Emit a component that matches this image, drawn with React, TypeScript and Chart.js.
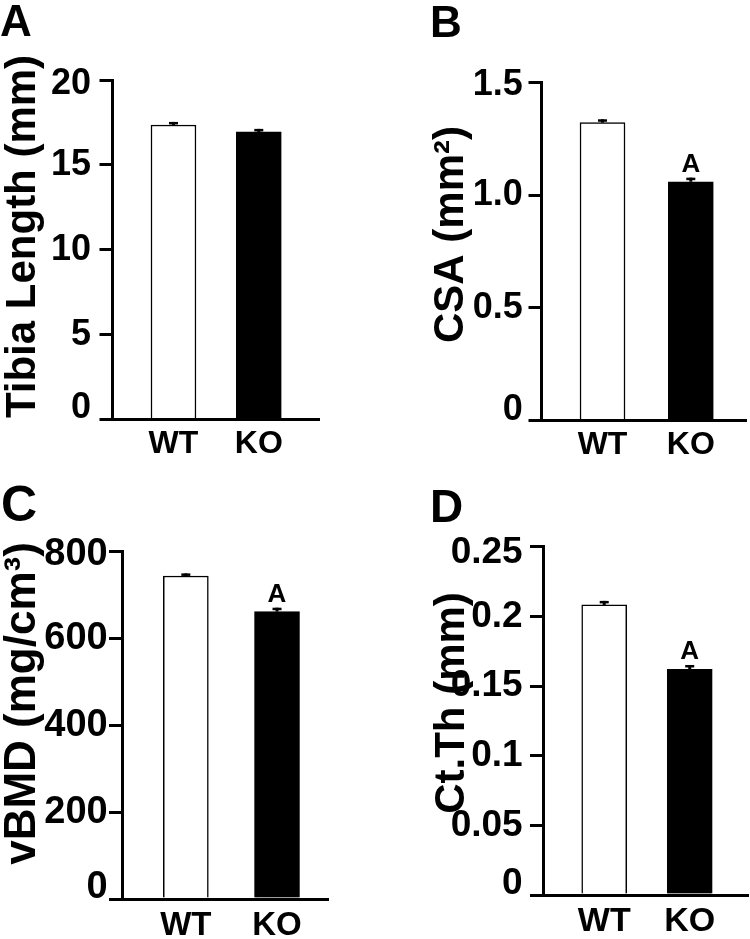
import React, { useEffect, useRef } from 'react';
import { Chart, registerables } from 'chart.js';

Chart.register(...registerables);

const FONT = '"Liberation Sans", Arial, Helvetica, sans-serif';

// ---------------- data ----------------
const categories = ['WT', 'KO'];

const tibiaLength = [17.35, 16.94];
const tibiaLengthErr = [0.18, 0.18];

const csa = [1.321, 1.059];
const csaErr = [0.015, 0.018];

const vbmd = [744, 662];
const vbmdErr = [6, 9];

const ctTh = [0.2082, 0.162];
const ctThErr = [0.0029, 0.0031];

const sigA = ['', ''];
const sigB = ['', 'A'];
const sigC = ['', 'A'];
const sigD = ['', 'A'];

const tickValsA = [0, 5, 10, 15, 20];
const tickLabelsA = ['0', '5', '10', '15', '20'];
const tickValsB = [0, 0.5, 1.0, 1.5];
const tickLabelsB = ['0', '0.5', '1.0', '1.5'];
const tickValsC = [0, 200, 400, 600, 800];
const tickLabelsC = ['0', '200', '400', '600', '800'];
const tickValsD = [0, 0.05, 0.1, 0.15, 0.2, 0.25];
const tickLabelsD = ['0', '0.05', '0.1', '0.15', '0.2', '0.25'];

const panelLetters = ['A', 'B', 'C', 'D'];
const yTitles = ['Tibia Length (mm)', 'CSA (mm²)', 'vBMD (mg/cm³)', 'Ct.Th (mm)'];

// ---------------- layout / style ----------------
const panels = [
  {
    letter: panelLetters[0], title: yTitles[0], values: tibiaLength, errors: tibiaLengthErr, sig: sigA,
    tickVals: tickValsA, tickLabels: tickLabelsA,
    x: 0, y: 0, W: 375, H: 470, left: 112.5, right: 319, top: 80, bottom: 419.5, xMin: 0.285, xMax: 2.706,
    tickFont: 36, yPad: 8.5, topShift: 4, zeroShift: 11, xFont: 32, xPad: 5,
    titleFont: 42, titleX: 35, titleY: 236.5, letterFont: 44, letterX: 0, letterY: 36,
  },
  {
    letter: panelLetters[1], title: yTitles[1], values: csa, errors: csaErr, sig: sigB,
    tickVals: tickValsB, tickLabels: tickLabelsB,
    x: 375, y: 0, W: 375, H: 470, left: 166.5, right: 371.7, top: 82.3, bottom: 420.5, xMin: 0.309, xMax: 2.633,
    tickFont: 36, yPad: 5.8, topShift: 3, zeroShift: 10.5, xFont: 32, xPad: 5,
    titleFont: 42, titleX: 88, titleY: 234.5, letterFont: 44, letterX: 55, letterY: 36.5,
  },
  {
    letter: panelLetters[2], title: yTitles[2], values: vbmd, errors: vbmdErr, sig: sigC,
    tickVals: tickValsC, tickLabels: tickLabelsC,
    x: 0, y: 470, W: 375, H: 469, left: 122, right: 328.3, top: 81.7, bottom: 429, xMin: 0.3, xMax: 2.5625,
    tickFont: 38, yPad: 1.3, topShift: 2.5, zeroShift: 11.5, xFont: 33, xPad: 7,
    titleFont: 44, titleX: 35, titleY: 233.5, letterFont: 50, letterX: 1, letterY: 51,
  },
  {
    letter: panelLetters[3], title: yTitles[3], values: ctTh, errors: ctThErr, sig: sigD,
    tickVals: tickValsD, tickLabels: tickLabelsD,
    x: 375, y: 470, W: 375, H: 469, left: 168, right: 373.3, top: 76.7, bottom: 425, xMin: 0.284, xMax: 2.685,
    tickFont: 37, yPad: 7.3, topShift: 6.5, zeroShift: 11.5, xFont: 34, xPad: 5.8,
    titleFont: 42, titleX: 89, titleY: 233, letterFont: 46, letterX: 55, letterY: 52,
  },
];

type Panel = (typeof panels)[number];

function Panel({ p }: { p: Panel }) {
  const ref = useRef<HTMLCanvasElement | null>(null);

  useEffect(() => {
    const canvas = ref.current;
    if (!canvas) return;
    const last = p.tickVals.length - 1;
    const yMax = p.tickVals[last];

    const decor = {
      id: 'decor',
      afterDatasetsDraw(chart: any) {
        const ctx = chart.ctx as CanvasRenderingContext2D;
        const ys = chart.scales.y;
        const meta = chart.getDatasetMeta(0);
        ctx.save();
        ctx.fillStyle = '#000';
        meta.data.forEach((el: any, i: number) => {
          const v = p.values[i];
          const e = p.errors[i];
          const yv = ys.getPixelForValue(v);
          const yt = ys.getPixelForValue(v + e);
          // stem
          ctx.fillRect(el.x - 1.5, yt, 3, yv - yt);
          // cap
          ctx.fillRect(el.x - 4.5, yt, 9, 2.5);
          if (p.sig[i]) {
            ctx.font = `bold 26px ${FONT}`;
            ctx.textAlign = 'center';
            ctx.textBaseline = 'alphabetic';
            ctx.fillText(p.sig[i], el.x, yt - 6);
          }
        });
        ctx.restore();
      },
      afterDraw(chart: any) {
        const ctx = chart.ctx as CanvasRenderingContext2D;
        ctx.save();
        ctx.fillStyle = '#000';
        // panel letter
        ctx.font = `bold ${p.letterFont}px ${FONT}`;
        ctx.textAlign = 'left';
        ctx.textBaseline = 'alphabetic';
        ctx.fillText(p.letter, p.letterX, p.letterY);
        // y axis title
        ctx.translate(p.titleX, p.titleY);
        ctx.rotate(-Math.PI / 2);
        ctx.font = `bold ${p.titleFont}px ${FONT}`;
        ctx.textAlign = 'center';
        ctx.textBaseline = 'alphabetic';
        ctx.fillText(p.title, 0, 0);
        ctx.restore();
      },
    };

    const chart = new Chart(canvas, {
      type: 'bar',
      data: {
        datasets: [
          {
            data: p.values.map((v, i) => ({ x: i + 1, y: v })),
            backgroundColor: ['#ffffff', '#000000'],
            borderColor: '#000000',
            borderWidth: 1.5,
            barThickness: 45,
          } as any,
        ],
      },
      options: {
        responsive: false,
        animation: false,
        devicePixelRatio: 1,
        layout: { padding: { left: 0, top: p.top, right: p.W - p.right, bottom: 0 } },
        plugins: {
          legend: { display: false },
          tooltip: { enabled: false },
          title: { display: false },
        },
        scales: {
          x: {
            type: 'linear',
            min: p.xMin,
            max: p.xMax,
            offset: false,
            grid: { display: false, drawTicks: false },
            border: { display: true, color: '#000', width: 3, z: 1 },
            afterBuildTicks: (s: any) => {
              s.ticks = categories.map((_, i) => ({ value: i + 1 }));
            },
            afterFit: (s: any) => {
              s.height = p.H - p.bottom;
            },
            ticks: {
              color: '#000',
              padding: p.xPad,
              maxRotation: 0,
              autoSkip: false,
              font: { family: FONT, size: p.xFont, weight: 'bold' },
              callback: (v: any) => categories[Math.round(Number(v)) - 1] ?? '',
            },
          },
          y: {
            type: 'linear',
            min: 0,
            max: yMax,
            grid: {
              display: true,
              drawOnChartArea: false,
              drawTicks: true,
              tickLength: 13,
              tickWidth: 3,
              tickColor: '#000',
              color: '#000',
              lineWidth: 3,
            },
            border: { display: true, color: '#000', width: 3, z: 1 },
            afterBuildTicks: (s: any) => {
              s.ticks = p.tickVals.map((v) => ({ value: v }));
            },
            afterFit: (s: any) => {
              s.width = p.left;
            },
            ticks: {
              color: '#000',
              padding: p.yPad,
              autoSkip: false,
              font: (ctx: any) => {
                const i = ctx.index;
                let lh: any = 1.2;
                if (i === 0) lh = `${2 * p.zeroShift}px`;
                else if (i === last) lh = `${2 * p.topShift}px`;
                return { family: FONT, size: p.tickFont, weight: 'bold', lineHeight: lh };
              },
              callback: (_v: any, i: number) => {
                const lab = p.tickLabels[i];
                if (i === 0) return [lab, ''];
                if (i === last) return ['', lab];
                return lab;
              },
            },
          },
        },
      } as any,
      plugins: [decor],
    });

    return () => chart.destroy();
  }, [p]);

  return (
    <canvas
      ref={ref}
      width={p.W}
      height={p.H}
      style={{ position: 'absolute', left: p.x, top: p.y, width: p.W, height: p.H, display: 'block' }}
    />
  );
}

export default function App() {
  return (
    <div
      style={{
        position: 'absolute',
        left: 0,
        top: 0,
        width: 750,
        height: 939,
        background: '#ffffff',
        overflow: 'hidden',
      }}
    >
      {panels.map((p) => (
        <Panel key={p.letter} p={p} />
      ))}
    </div>
  );
}
